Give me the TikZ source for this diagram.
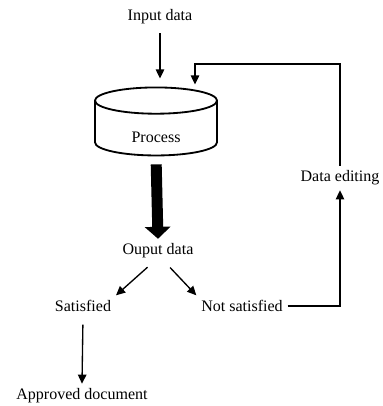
\documentclass[tikz,border=0pt]{standalone}
\usepackage{fontspec}
\setmainfont{Liberation Serif}
\usepackage{tikz}
\usetikzlibrary{arrows.meta,shapes.geometric,positioning}

\begin{document}
\begin{tikzpicture}[x=0.025cm, y=-0.025cm,
    every node/.style={font=\fontsize{11.4}{13}\selectfont},
    arr/.style={-{Triangle[width=6pt,length=6.5pt]}, line width=0.95pt},
    bigarr/.style={-{Triangle[width=18pt,length=8.5pt]}, line width=7.8pt}]
    \useasboundingbox (0,0) rectangle (382,406);

    % Nodes
    \node (input) at (160,17) {Input data};
    \node[cylinder, shape border rotate=90, draw, line width=1.3pt, text height=16pt,
          minimum width=3.05cm, minimum height=1.7cm, aspect=0.45] (process) at (156,131) {Process};
    \node (output) at (158,251) {Ouput data};
    \node (satisfied) at (83,306) {Satisfied};
    \node (notsat) at (242,306) {Not satisfied};
    \node (approved) at (82,396) {Approved document};
    \node (editing) at (340,178) {Data editing};
    \coordinate (fbtop) at (195,64);

    % Connectors
    \draw[arr, shorten <=0.1cm, shorten >=0.2cm] (input.south) -- (input.south |- process.north);
    \draw[bigarr, shorten <=0.2cm] (process.south) -- (output.north);
    \draw[arr, shorten <=0.15cm] ([xshift=-0.15cm]output.south) -- (satisfied.north east);
    \draw[arr, shorten <=0.15cm] ([xshift=0.2cm]output.south) -- (notsat.north west);
    \draw[arr, shorten <=0.2cm] (satisfied.south) -- (approved.north);
    \draw[arr] (notsat.east) -| (editing.south);
    \draw[arr, shorten >=0.05cm] (editing.north) |- (fbtop) -- (fbtop |- process.north);
\end{tikzpicture}
\end{document}
